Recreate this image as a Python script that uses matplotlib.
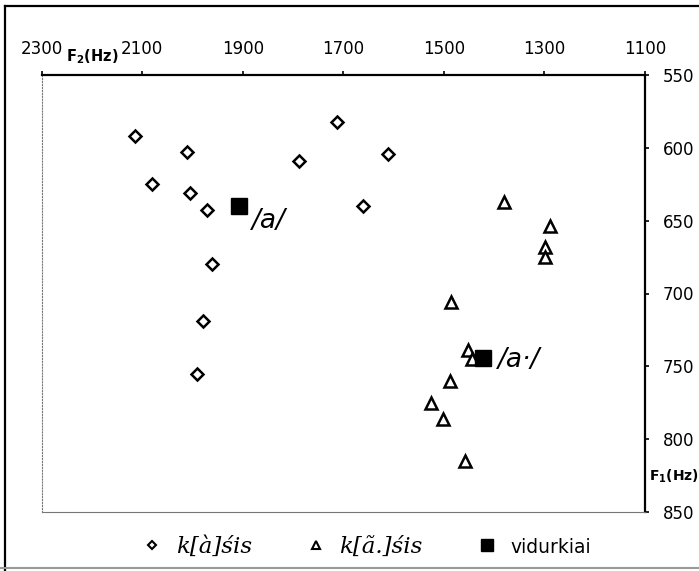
import matplotlib.pyplot as plt
from matplotlib.lines import Line2D

# formant values: F2 (Hz) on x, F1 (Hz) on y
short_f2 = [2115, 2010, 2081, 2005, 1971, 1961, 1979, 1992, 1713, 1788, 1611, 1660]
short_f1 = [592, 603, 625, 631, 643, 680, 719, 755, 582, 609, 604, 640]
long_f2 = [1381, 1289, 1299, 1299, 1485, 1452, 1445, 1488, 1526, 1501, 1458]
long_f1 = [637, 654, 668, 675, 706, 739, 745, 760, 775, 786, 815]
mean_f2 = [1907, 1422]
mean_f1 = [640, 744]
mean_labels = ["/a/", "/a·/"]
legend_labels = ["k[à]śis", "k[ã.]śis", "vidurkiai"]
x_ticks = [2300, 2100, 1900, 1700, 1500, 1300, 1100]
y_ticks = [550, 600, 650, 700, 750, 800, 850]

fig = plt.figure(figsize=(6.99, 5.71), dpi=100)
ax = fig.add_axes([41.7 / 699, 1 - 512 / 571, (645 - 41.7) / 699, (512 - 75) / 571])

ax.plot(short_f2, short_f1, ls="none", marker="D", ms=6.3, mfc="white", mec="black", mew=1.8)
ax.plot(long_f2, long_f1, ls="none", marker="^", ms=8, mfc="white", mec="black", mew=1.8)
ax.plot(mean_f2, mean_f1, ls="none", marker="s", ms=11, color="black")

# labels next to the means
offsets = [(9, -11), (11, -2)]
for x, y, lab, off in zip(mean_f2, mean_f1, mean_labels, offsets):
    ax.annotate(lab, (x, y), xytext=off, textcoords="offset points",
                ha="left", va="center", fontsize=19, style="italic")

ax.set_xlim(2300, 1100)
ax.set_ylim(850, 550)
ax.set_xticks(x_ticks)
ax.set_yticks(y_ticks)
ax.xaxis.tick_top()
ax.yaxis.tick_right()
ax.tick_params(axis="x", direction="out", length=3, width=1.2, pad=9, labelsize=12)
ax.tick_params(axis="y", direction="out", length=3, width=1.2, pad=10, labelsize=12)

for side in ["top", "right"]:
    ax.spines[side].set_linewidth(1.6)
for side in ["left", "bottom"]:
    ax.spines[side].set_linewidth(0.8)
    ax.spines[side].set_color("#777777")
ax.spines["left"].set_linestyle(":")

fig.text(66 / 699, 1 - 57 / 571, r"$\mathbf{F_2}$(Hz)", fontsize=10.5, fontweight="bold",
         ha="left", va="center")
fig.text(649 / 699, 1 - 476 / 571, r"$\mathbf{F_1}$(Hz)", fontsize=10, fontweight="bold",
         ha="left", va="center")

handles = [
    Line2D([], [], ls="none", marker="D", ms=4.5, mfc="white", mec="black", mew=1.5),
    Line2D([], [], ls="none", marker="^", ms=6, mfc="white", mec="black", mew=1.5),
    Line2D([], [], ls="none", marker="s", ms=9, color="black"),
]
leg = fig.legend(handles, legend_labels, loc="center", bbox_to_anchor=(366 / 699, 1 - 547 / 571),
                 ncol=3, frameon=False, handlelength=1, handletextpad=0.52, columnspacing=2.3,
                 prop={"family": "DejaVu Serif", "style": "italic", "size": 16.5})
leg.get_texts()[2].set_fontfamily("DejaVu Sans")
leg.get_texts()[2].set_fontstyle("normal")
leg.get_texts()[2].set_fontsize(13.5)

# scan frame around the chart
fig.add_artist(Line2D([5 / 699, 5 / 699], [0, 1 - 6 / 571], transform=fig.transFigure, color="black", lw=1.6))
fig.add_artist(Line2D([5 / 699, 1], [1 - 6 / 571, 1 - 6 / 571], transform=fig.transFigure, color="black", lw=1.6))
fig.add_artist(Line2D([0, 1], [1 - 568 / 571, 1 - 568 / 571], transform=fig.transFigure, color="#999999", lw=1.5))

fig.savefig("out.png", dpi=100)
